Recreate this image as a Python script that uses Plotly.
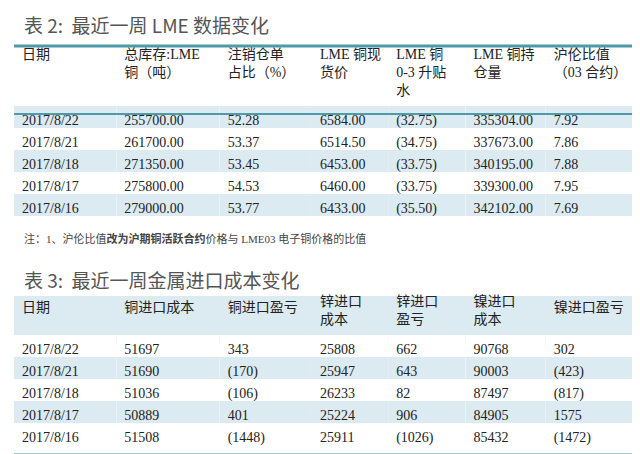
import plotly.graph_objects as go

W, H = 640, 454
FONT = "Liberation Serif, Noto Sans CJK SC"
TEAL = "#4f9aa8"
BAND = "#dceaf2"
CLEAR = "rgba(0,0,0,0)"

# table 2 data
t2_header = ["<br>日期", "总库存:LME<br>铜（吨）", "注销仓单<br>占比（%）", "LME 铜现<br>货价",
             "LME 铜<br>0-3 升贴<br>水", "LME 铜持<br>仓量", "沪伦比值<br>（03 合约）"]
t2_dates = ["2017/8/22", "2017/8/21", "2017/8/18", "2017/8/17", "2017/8/16"]
t2_stock = ["255700.00", "261700.00", "271350.00", "275800.00", "279000.00"]
t2_cancel = ["52.28", "53.37", "53.45", "54.53", "53.77"]
t2_spot = ["6584.00", "6514.50", "6453.00", "6460.00", "6433.00"]
t2_spread = ["(32.75)", "(34.75)", "(33.75)", "(33.75)", "(35.50)"]
t2_oi = ["335304.00", "337673.00", "340195.00", "339300.00", "342102.00"]
t2_ratio = ["7.92", "7.86", "7.88", "7.95", "7.69"]

# table 3 data
t3_header = ["<br>日期", "<br>铜进口成本", "<br>铜进口盈亏", "锌进口<br>成本", "锌进口<br>盈亏",
             "镍进口<br>成本", "<br>镍进口盈亏"]
t3_dates = ["2017/8/22", "2017/8/21", "2017/8/18", "2017/8/17", "2017/8/16"]
t3_cu_cost = ["51697", "51690", "51036", "50889", "51508"]
t3_cu_pl = ["343", "(170)", "(106)", "401", "(1448)"]
t3_zn_cost = ["25808", "25947", "26233", "25224", "25911"]
t3_zn_pl = ["662", "643", "82", "906", "(1026)"]
t3_ni_cost = ["90768", "90003", "87497", "84905", "85432"]
t3_ni_pl = ["302", "(423)", "(817)", "1575", "(1472)"]

colw = [102, 103, 92, 76, 77, 80, 96]


def py(px):
    return 1 - px / H


fig = go.Figure()

# header band of table 3 (drawn under the transparent header)
fig.add_shape(type="rect", xref="paper", yref="paper", x0=6 / W, x1=634 / W,
              y0=py(335), y1=py(288), fillcolor=BAND, line=dict(width=0), layer="below")

fig.add_trace(go.Table(
    domain=dict(x=[6 / W, 634 / W], y=[py(220), py(31)]),
    columnwidth=colw,
    header=dict(values=t2_header, fill_color=CLEAR, height=66, align="left",
                line=dict(width=0, color=CLEAR),
                font=dict(family=FONT, size=14, color="#222")),
    cells=dict(values=[t2_dates, t2_stock, t2_cancel, t2_spot, t2_spread, t2_oi, t2_ratio],
               fill_color=[[BAND, "white", BAND, "white", BAND]] * 7,
               height=22, align="left", line=dict(width=0, color=CLEAR),
               font=dict(family=FONT, size=14, color="#222")),
))

fig.add_trace(go.Table(
    domain=dict(x=[6 / W, 634 / W], y=[py(447), py(278)]),
    columnwidth=colw,
    header=dict(values=t3_header, fill_color=CLEAR, height=47, align="left",
                line=dict(width=0, color=CLEAR),
                font=dict(family=FONT, size=14, color="#222")),
    cells=dict(values=[t3_dates, t3_cu_cost, t3_cu_pl, t3_zn_cost, t3_zn_pl, t3_ni_cost, t3_ni_pl],
               fill_color=[["white", BAND, "white", BAND, "white"]] * 7,
               height=22, align="left", line=dict(width=0, color=CLEAR),
               font=dict(family=FONT, size=14, color="#222")),
))

# rules
for y0, w in [(38, 3), (106, 2), (447, 3)]:
    fig.add_shape(type="line", xref="paper", yref="paper", x0=6 / W, x1=634 / W,
                  y0=py(y0), y1=py(y0), line=dict(color=TEAL, width=w))

fig.add_annotation(text="表 2:  最近一周 LME 数据变化", x=14 / W, y=py(16), xref="paper", yref="paper",
                   xanchor="left", yanchor="middle", showarrow=False,
                   font=dict(family="Noto Sans CJK SC", size=19, color="#555"))
fig.add_annotation(text="表 3:  最近一周金属进口成本变化", x=14 / W, y=py(271), xref="paper", yref="paper",
                   xanchor="left", yanchor="middle", showarrow=False,
                   font=dict(family="Noto Sans CJK SC", size=19, color="#555"))
fig.add_annotation(text="注：1、沪伦比值<b>改为沪期铜活跃合约</b>价格与 LME03 电子铜价格的比值",
                   x=14 / W, y=py(231), xref="paper", yref="paper",
                   xanchor="left", yanchor="middle", showarrow=False,
                   font=dict(family=FONT, size=11, color="#444"))

fig.update_layout(width=W, height=H, margin=dict(l=0, r=0, t=0, b=0),
                  paper_bgcolor="white", plot_bgcolor="white")

fig.write_html("out.html")
